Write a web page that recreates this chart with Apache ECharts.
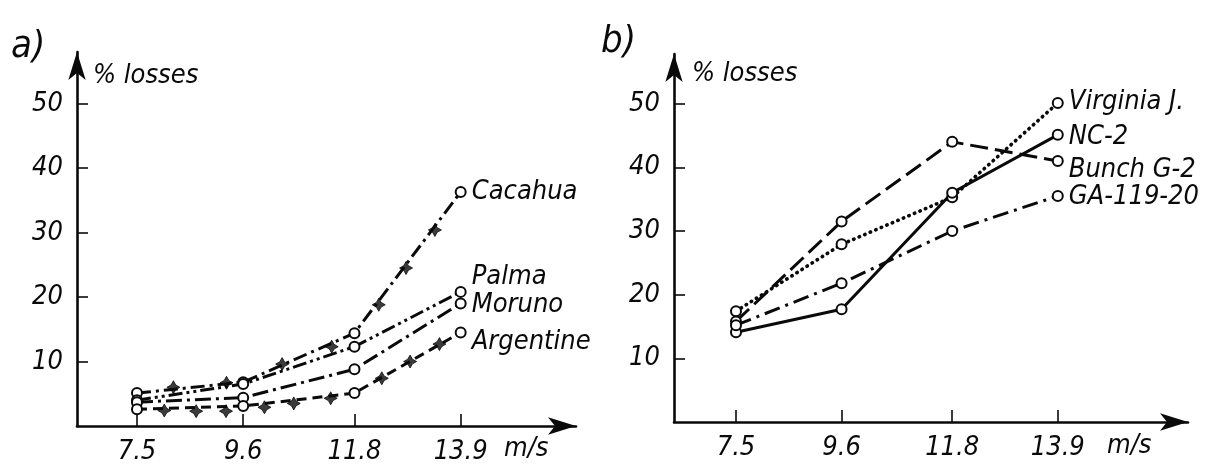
<!DOCTYPE html>
<html>
<head>
<meta charset="utf-8">
<script src="https://cdn.jsdelivr.net/npm/echarts@6/dist/echarts.min.js"></script>
<style>
html,body{margin:0;padding:0;background:#fff;}
#chart{width:1205px;height:465px;}
</style>
</head>
<body>
<div id="chart"></div>
<script>
// ---- data ----
const speeds = [7.5, 9.6, 11.8, 13.9];
const yTicks = [10, 20, 30, 40, 50];

// panel a)
const cacahua   = [5.1, 6.8, 14.4, 36.3];
const palma     = [4.0, 6.5, 12.3, 20.8];
const moruno    = [3.7, 4.4, 8.8, 19.0];
const argentine = [2.6, 3.1, 5.1, 14.5];
const cacahuaCrossX   = [8.22, 9.27, 10.37, 11.35, 12.28, 12.82, 13.39];
const cacahuaCrossY   = [6.0, 6.7, 9.6, 12.3, 18.8, 24.5, 30.4];
const argentineCrossX = [8.04, 8.67, 9.26, 10.02, 10.6, 11.33, 12.34, 12.9, 13.48];
const argentineCrossY = [2.4, 2.3, 2.3, 2.9, 3.5, 4.3, 7.4, 10.0, 12.7];

// panel b)
const virginia = [17.4, 27.9, 35.3, 50.1];
const nc2      = [14.1, 17.7, 36.0, 45.1];
const bunchG2  = [15.8, 31.5, 44.0, 41.0];
const ga11920  = [15.2, 21.8, 30.0, 35.5];

// ---- styling ----
const FONT = "'DejaVu Sans Condensed', 'Liberation Sans Narrow', 'Liberation Sans', sans-serif";
const INK = '#0a0a0a';
const FS = 27;
const crossPath = 'path://M5,0 L6.8,3.2 L10,5 L6.8,6.8 L5,10 L3.2,6.8 L0,5 L3.2,3.2 Z';

function pairs(xs, ys) { return xs.map((x, i) => [x, ys[i]]); }

function makeX(idx, min, max) {
  return {
    type: 'value', gridIndex: idx, min: min, max: max,
    splitLine: { show: false },
    axisLine: { show: true, lineStyle: { color: INK, width: 2.6 }, symbol: ['none', 'arrow'], symbolSize: [13, 28] },
    axisTick: { show: true, inside: true, length: 12, customValues: speeds, lineStyle: { color: INK, width: 1.6 } },
    axisLabel: { show: true, customValues: speeds, margin: 12, color: INK, fontFamily: FONT, fontStyle: 'italic', fontSize: FS,
      formatter: v => String(v) },
    minorTick: { show: false }
  };
}
function makeY(idx, max) {
  return {
    type: 'value', gridIndex: idx, min: 0, max: max,
    splitLine: { show: false },
    axisLine: { show: true, lineStyle: { color: INK, width: 2.6 }, symbol: ['none', 'arrow'], symbolSize: [13, 28] },
    axisTick: { show: true, inside: true, length: 11, customValues: yTicks, lineStyle: { color: INK, width: 1.6 } },
    axisLabel: { show: true, customValues: yTicks, margin: 14, color: INK, fontFamily: FONT, fontStyle: 'italic', fontSize: FS }
  };
}

function lineSeries(name, ys, idx, lineType, endOffset, extra) {
  return Object.assign({
    name: name, type: 'line', xAxisIndex: idx, yAxisIndex: idx,
    data: pairs(speeds, ys),
    symbol: 'emptyCircle', symbolSize: 10,
    itemStyle: { color: INK, borderColor: INK, borderWidth: 2.2 },
    lineStyle: { color: INK, width: 3, type: lineType },
    endLabel: { show: true, formatter: '{a}', color: INK, fontFamily: FONT, fontStyle: 'italic', fontSize: FS,
      distance: 11, offset: endOffset },
    z: 3, animation: false
  }, extra || {});
}
function crossSeries(xs, ys, idx) {
  return {
    type: 'scatter', xAxisIndex: idx, yAxisIndex: idx,
    data: pairs(xs, ys), symbol: crossPath, symbolSize: 13,
    itemStyle: { color: INK, borderColor: INK, borderWidth: 1 }, z: 4, animation: false, silent: true
  };
}

const option = {
  backgroundColor: '#fff',
  animation: false,
  grid: [
    { left: 77, top: 52, width: 499, height: 375 },
    { left: 674, top: 54, width: 514, height: 368 }
  ],
  xAxis: [ makeX(0, 6.314, 16.18), makeX(1, 6.267, 16.49) ],
  yAxis: [ makeY(0, 58.0), makeY(1, 57.8) ],
  series: [
    lineSeries('Cacahua', cacahua, 0, [14, 5, 3, 5], [0, 0]),
    lineSeries('Palma', palma, 0, [14, 4, 3, 4, 3, 4], [0, -15]),
    lineSeries('Moruno', moruno, 0, [16, 5, 3, 5], [0, 2]),
    lineSeries('Argentine', argentine, 0, [10, 6], [0, 9]),
    crossSeries(cacahuaCrossX, cacahuaCrossY, 0),
    crossSeries(argentineCrossX, argentineCrossY, 0),
    lineSeries('Virginia J.', virginia, 1, [0.5, 5.5], [0, -1], { lineStyle: { color: INK, width: 3.6, type: [0.5, 5.5], cap: 'round' } }),
    lineSeries('NC-2', nc2, 1, 'solid', [0, 2]),
    lineSeries('Bunch G-2', bunchG2, 1, [18, 7], [0, 9]),
    lineSeries('GA-119-20', ga11920, 1, [16, 6, 3, 6], [0, 1])
  ],
  graphic: [
    { type: 'text', left: 11, top: 28, style: { text: 'a)', font: "italic 38px " + FONT, fill: INK } },
    { type: 'text', left: 601, top: 23, style: { text: 'b)', font: "italic 38px " + FONT, fill: INK } },
    { type: 'text', left: 93, top: 62, style: { text: '% losses', font: "italic " + FS + "px " + FONT, fill: INK } },
    { type: 'text', left: 692, top: 60, style: { text: '% losses', font: "italic " + FS + "px " + FONT, fill: INK } },
    { type: 'text', left: 504, top: 435, style: { text: 'm/s', font: "italic " + FS + "px " + FONT, fill: INK } },
    { type: 'text', left: 1107, top: 432, style: { text: 'm/s', font: "italic " + FS + "px " + FONT, fill: INK } }
  ]
};

const chart = echarts.init(document.getElementById('chart'), null, { renderer: 'canvas' });
chart.setOption(option);
</script>
</body>
</html>
